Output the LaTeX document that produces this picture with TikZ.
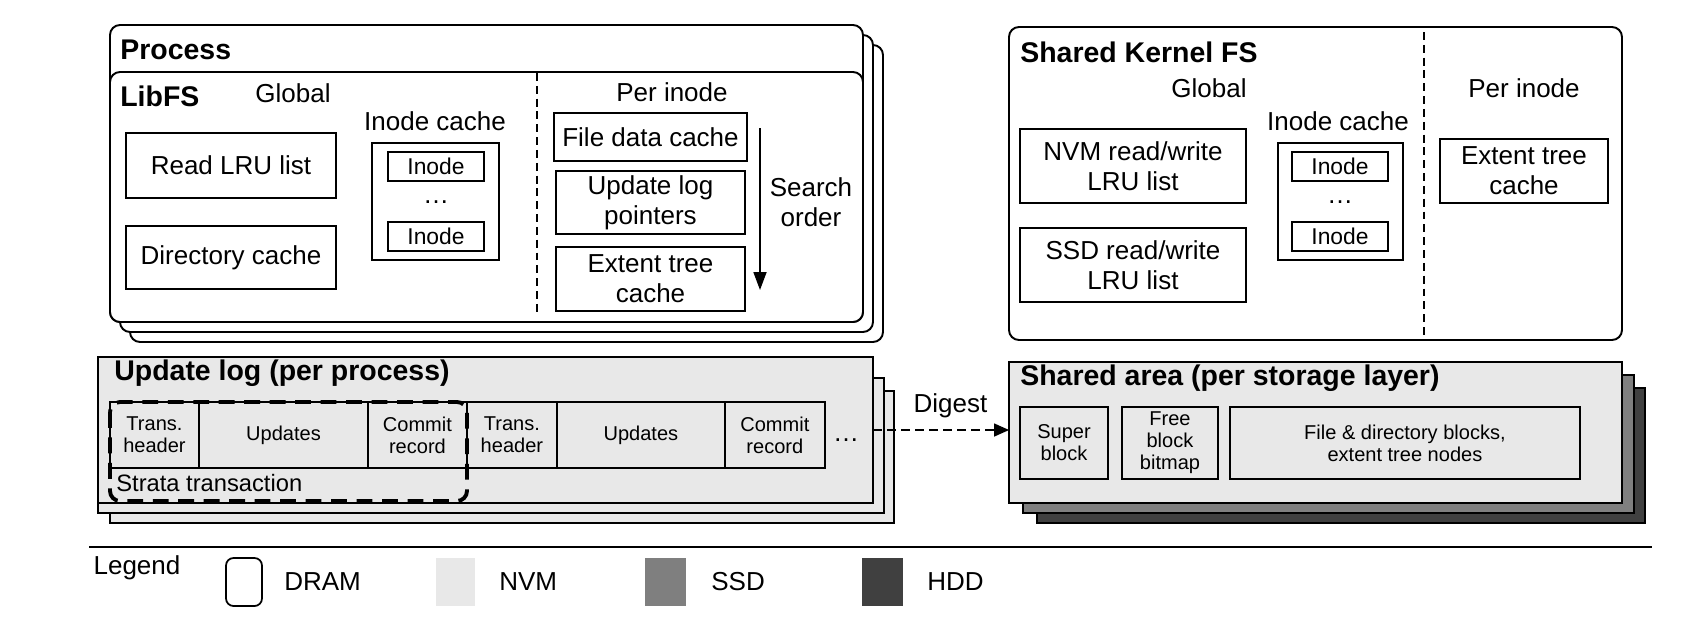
\documentclass[tikz,border=0pt]{standalone}
\usepackage{fontspec}
\setmainfont{Liberation Sans}
\usetikzlibrary{arrows.meta,positioning}
\definecolor{nvmgray}{HTML}{E8E8E8}
\definecolor{ssdgray}{HTML}{7F7F7F}
\definecolor{hddgray}{HTML}{404040}
\newcommand{\headfont}{\fontsize{16.2}{19}\bfseries\selectfont}
\newcommand{\lblfont}{\fontsize{14.8}{17}\selectfont}
\newcommand{\inodefont}{\fontsize{13}{15}\selectfont}
\newcommand{\cellfont}{\fontsize{11.4}{12.5}\selectfont}
\tikzstyle{dram} = [draw, fill=white, rounded corners=0.2cm, line width=1.1pt]
\tikzstyle{nvmbox} = [rectangle, draw, fill=nvmgray, line width=1pt, inner sep=0pt, outer sep=0pt]
\tikzstyle{ssdbox} = [draw, fill=ssdgray, line width=1pt]
\tikzstyle{hddbox} = [draw, fill=hddgray, line width=1pt]
\tikzstyle{head} = [inner sep=0pt, font=\headfont]
\tikzstyle{txt} = [inner sep=0pt, font=\lblfont, align=center]
\tikzstyle{box} = [rectangle, draw, fill=white, line width=1pt, inner sep=0pt, outer sep=0pt, align=center, font=\lblfont]
\tikzstyle{inode} = [box, minimum width=1.92cm, minimum height=0.58cm, font=\inodefont]
\tikzstyle{cell} = [nvmbox, minimum height=1.32cm, align=center, font=\cellfont]
\tikzstyle{block} = [nvmbox, minimum height=1.44cm, align=center, font=\cellfont]
\tikzstyle{swatch} = [rectangle, inner sep=0pt, outer sep=0pt, minimum height=0.96cm]
\tikzstyle{divider} = [line width=0.8pt, dash pattern=on 4.5pt off 2.8pt]
\tikzstyle{arrow} = [line width=1pt, -{Triangle[length=0.36cm, width=0.26cm]}]
\tikzstyle{digest} = [line width=0.8pt, dash pattern=on 5pt off 3pt, -{Triangle[length=0.3cm, width=0.26cm]}]
\tikzstyle{strata} = [line width=2.2pt, dash pattern=on 9pt off 5.5pt, rounded corners=0.2cm]

\begin{document}
\begin{tikzpicture}[x=0.02cm, y=-0.02cm]
\useasboundingbox (0,0) rectangle (1688,620);

% process (DRAM)
\draw[dram] (130,45) rectangle (883,342);
\draw[dram] (120,35) rectangle (873,332);
\draw[dram] (110,25) rectangle (863,322);
\draw[dram] (110,72) rectangle (863,322);
\node (process) [head, anchor=west] at (120,50) {Process};
\node (libfs) [head, anchor=west] at (120,96) {LibFS};
\node (libglobal) [txt] at (293,93) {Global};
\node (libperinode) [txt] at (672,92) {Per inode};
\draw[divider] (537,73) -- (537,315);

\node (readlru) [box, minimum width=4.2cm, minimum height=1.3cm] at (231,165.5) {Read LRU list};
\node (dircache) [box, minimum width=4.2cm, minimum height=1.26cm, below=0.56cm of readlru] {Directory cache};

\node (libicache) [txt] at (435,121) {Inode cache};
\node (libibox) [box, minimum width=2.54cm, minimum height=2.34cm] at (435.5,201.5) {};
\node (libinodea) [inode] at (436,166.5) {Inode};
\node (libinodeb) [inode] at (436,236.5) {Inode};
\node (libdots) [txt] at (436,202) {\dots};

\node (filedata) [box, minimum width=3.86cm, minimum height=0.96cm] at (650.5,137) {File data cache};
\node (logptr) [box, minimum width=3.78cm, minimum height=1.26cm, below=0.2cm of filedata] {Update log\\pointers};
\node (libextent) [box, minimum width=3.78cm, minimum height=1.28cm, below=0.26cm of logptr] {Extent tree\\cache};
\coordinate (searchtop) at (760,128);
\coordinate (searchbot) at (760,290);
\draw[arrow] (searchtop) -- (searchbot);
\node (searchlbl) [txt] at (811,202) {Search\\order};

% shared kernel FS (DRAM)
\draw[dram] (1009,27) rectangle (1622,340);
\node (kernfs) [head, anchor=west] at (1020,52) {Shared Kernel FS};
\node (kernglobal) [txt] at (1209,88) {Global};
\node (kernperinode) [txt] at (1524,88) {Per inode};
\draw[divider] (1424,32) -- (1424,335);

\node (nvmlru) [box, minimum width=4.52cm, minimum height=1.48cm] at (1133,166) {NVM read/write\\LRU list};
\node (ssdlru) [box, minimum width=4.52cm, minimum height=1.48cm, below=0.5cm of nvmlru] {SSD read/write\\LRU list};

\node (kernicache) [txt] at (1338,121) {Inode cache};
\node (kernibox) [box, minimum width=2.5cm, minimum height=2.34cm] at (1340.5,201.5) {};
\node (kerninodea) [inode] at (1340,166.5) {Inode};
\node (kerninodeb) [inode] at (1340,236.5) {Inode};
\node (kerndots) [txt] at (1340,202) {\dots};
\node (kernextent) [box, minimum width=3.36cm, minimum height=1.28cm] at (1524,171) {Extent tree\\cache};

% update log (NVM)
\draw[nvmbox] (110,391) rectangle (894,523);
\draw[nvmbox] (98,378) rectangle (884,513);
\node (ulog) [nvmbox, minimum width=15.5cm, minimum height=2.92cm] at (485.5,430) {};
\node (ulogtitle) [head, anchor=west] at (114,373) {Update log (per process)};
\node (transa) [cell, minimum width=1.78cm] at (154.5,435) {Trans.\\header};
\node (updatesa) [cell, minimum width=3.38cm, right=0cm of transa] {Updates};
\node (commita) [cell, minimum width=1.98cm, right=0cm of updatesa] {Commit\\record};
\node (transb) [cell, minimum width=1.8cm, right=0cm of commita] {Trans.\\header};
\node (updatesb) [cell, minimum width=3.36cm, right=0cm of transb] {Updates};
\node (commitb) [cell, minimum width=2.0cm, right=0cm of updatesb] {Commit\\record};
\node (logdots) [txt] at (846,440) {\dots};
\draw[strata] (110,402) rectangle (467,501);
\node (stratalbl) [inner sep=0pt, font=\fontsize{13.5}{15}\selectfont, anchor=west] at (116,483) {Strata transaction};

% shared area (NVM, SSD, HDD)
\draw[hddbox] (1037,388) rectangle (1645,523);
\draw[ssdbox] (1023,375) rectangle (1634,513);
\node (sarea) [nvmbox, minimum width=12.26cm, minimum height=2.82cm] at (1315.5,432.5) {};
\node (sareatitle) [head, anchor=west] at (1020,378) {Shared area (per storage layer)};
\node (superblk) [block, minimum width=1.76cm] at (1064,443) {Super\\block};
\node (freeblk) [block, minimum width=1.92cm, right=0.28cm of superblk] {Free\\block\\bitmap};
\node (fileblk) [block, minimum width=7.0cm, right=0.24cm of freeblk] {File \& directory blocks,\\extent tree nodes};

\draw[digest] (ulog.east) -- node[txt, pos=0.57, above=0.22cm] {Digest} (ulog.east -| sarea.west);

% legend
\draw[line width=1.5pt] (89,547) -- (1652,547);
\node (legend) [txt] at (137,568) {Legend};
\node (dramkey) [swatch, draw, line width=1pt, rounded corners=0.15cm, minimum width=0.72cm] at (244,582) {};
\node (dramlbl) [txt, right=0.44cm of dramkey] {DRAM};
\node (nvmkey) [swatch, fill=nvmgray, minimum width=0.78cm] at (455.5,582) {};
\node (nvmlbl) [txt, right=0.48cm of nvmkey] {NVM};
\node (ssdkey) [swatch, fill=ssdgray, minimum width=0.82cm] at (665.5,582) {};
\node (ssdlbl) [txt, right=0.5cm of ssdkey] {SSD};
\node (hddkey) [swatch, fill=hddgray, minimum width=0.82cm] at (882.5,582) {};
\node (hddlbl) [txt, right=0.48cm of hddkey] {HDD};
\end{tikzpicture}
\end{document}
